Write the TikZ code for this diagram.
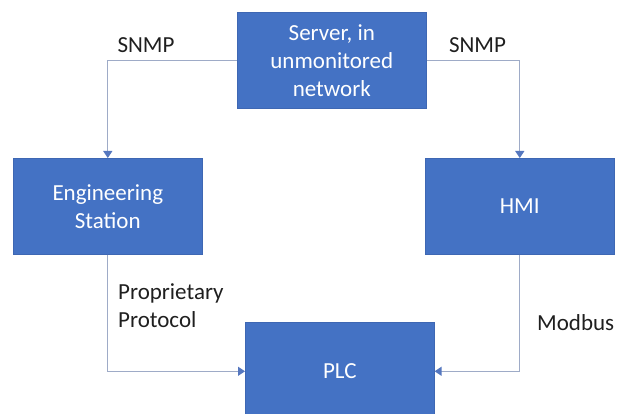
\documentclass[tikz,border=0pt]{standalone}
\usepackage{fontspec}
\setmainfont{Carlito}
\usetikzlibrary{arrows.meta}
\definecolor{boxblue}{HTML}{4472C4}
\definecolor{boxedge}{HTML}{3E67B3}
\definecolor{linkgray}{HTML}{9EABC7}
\definecolor{tipblue}{HTML}{5577BF}
\begin{document}
\begin{tikzpicture}[x=1pt,y=-1pt,
  block/.style={anchor=north west, fill=boxblue, draw=boxedge, line width=0.6pt,
    minimum width=189pt, minimum height=96pt, inner sep=0pt, text=white,
    align=center, font=\fontsize{23}{28}\selectfont},
  link/.style={draw=linkgray, line width=1.3pt,
    -{Triangle[width=9pt,length=7pt,color=tipblue]}},
  lbl/.style={font=\fontsize{23}{28}\selectfont, text=black!88, inner sep=0pt}]
  \useasboundingbox (0,0) rectangle (623,414);

  % devices
  \node[block] (server) at (237,12) {Server, in\\unmonitored\\network};
  \node[block] (eng) at (13,158) {Engineering\\Station};
  \node[block] (hmi) at (425,158) {HMI};
  \node[block, minimum height=98pt] (plc) at (245,322) {PLC};

  % links
  \draw[link] (server.west) -| (eng.north);
  \draw[link] (server.east) -| (hmi.north);
  \draw[link] (eng.south) |- (plc.west);
  \draw[link] (hmi.south) |- (plc.east);

  % protocol labels
  \node[lbl, anchor=base] (snmpl) at (146,53) {SNMP};
  \node[lbl, anchor=base] (snmpr) at (477.5,53) {SNMP};
  \node[lbl, anchor=base west, align=left] (prop) at (118,327) {Proprietary\\Protocol};
  \node[lbl, anchor=base west] (modbus) at (537,330) {Modbus};
\end{tikzpicture}
\end{document}
